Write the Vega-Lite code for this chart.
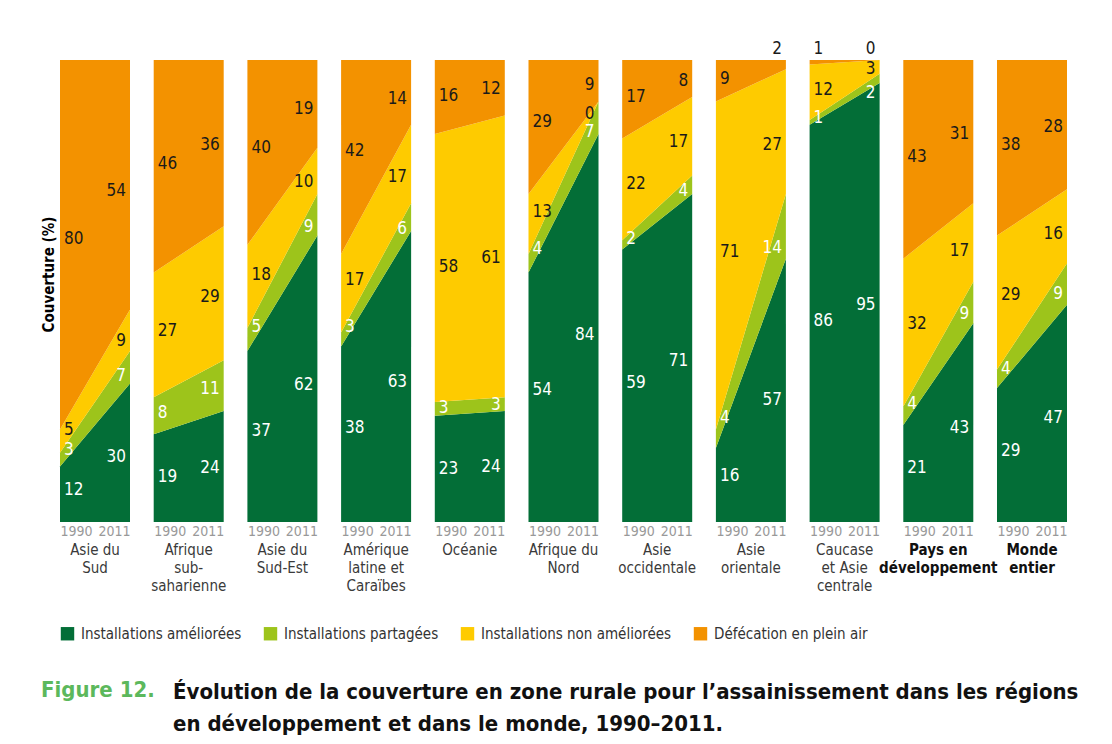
{
  "$schema": "https://vega.github.io/schema/vega-lite/v6.json",
  "padding": {"left": 41, "top": 40, "right": 5, "bottom": 8},
  "background": "white",
  "title": {
    "text": ["Évolution de la couverture en zone rurale pour l’assainissement dans les régions", "en développement et dans le monde, 1990–2011."],
    "orient": "bottom", "anchor": "start", "dx": 132, "dy": -23,
    "fontSize": 22, "fontWeight": "bold", "color": "#111111", "lineHeight": 32, "font": "DejaVu Sans Condensed"
  },
  "resolve": {"legend": {"color": "independent"}},
  "vconcat": [
    {
      "title": {"text": "Figure 12.", "orient": "bottom", "anchor": "start", "fontSize": 22, "fontWeight": "bold", "color": "#5cb85c", "offset": 38, "font": "DejaVu Sans Condensed"},
      "data": {"values": [
        {"region": "Asie du\nSud", "year": 1990, "Installations améliorées": 12, "Installations partagées": 3, "Installations non améliorées": 5, "Défécation en plein air": 80},
        {"region": "Asie du\nSud", "year": 2011, "Installations améliorées": 30, "Installations partagées": 7, "Installations non améliorées": 9, "Défécation en plein air": 54},
        {"region": "Afrique\nsub-\nsaharienne", "year": 1990, "Installations améliorées": 19, "Installations partagées": 8, "Installations non améliorées": 27, "Défécation en plein air": 46},
        {"region": "Afrique\nsub-\nsaharienne", "year": 2011, "Installations améliorées": 24, "Installations partagées": 11, "Installations non améliorées": 29, "Défécation en plein air": 36},
        {"region": "Asie du\nSud-Est", "year": 1990, "Installations améliorées": 37, "Installations partagées": 5, "Installations non améliorées": 18, "Défécation en plein air": 40},
        {"region": "Asie du\nSud-Est", "year": 2011, "Installations améliorées": 62, "Installations partagées": 9, "Installations non améliorées": 10, "Défécation en plein air": 19},
        {"region": "Amérique\nlatine et\nCaraïbes", "year": 1990, "Installations améliorées": 38, "Installations partagées": 3, "Installations non améliorées": 17, "Défécation en plein air": 42},
        {"region": "Amérique\nlatine et\nCaraïbes", "year": 2011, "Installations améliorées": 63, "Installations partagées": 6, "Installations non améliorées": 17, "Défécation en plein air": 14},
        {"region": "Océanie", "year": 1990, "Installations améliorées": 23, "Installations partagées": 3, "Installations non améliorées": 58, "Défécation en plein air": 16},
        {"region": "Océanie", "year": 2011, "Installations améliorées": 24, "Installations partagées": 3, "Installations non améliorées": 61, "Défécation en plein air": 12},
        {"region": "Afrique du\nNord", "year": 1990, "Installations améliorées": 54, "Installations partagées": 4, "Installations non améliorées": 13, "Défécation en plein air": 29},
        {"region": "Afrique du\nNord", "year": 2011, "Installations améliorées": 84, "Installations partagées": 7, "Installations non améliorées": 0, "Défécation en plein air": 9},
        {"region": "Asie\noccidentale", "year": 1990, "Installations améliorées": 59, "Installations partagées": 2, "Installations non améliorées": 22, "Défécation en plein air": 17},
        {"region": "Asie\noccidentale", "year": 2011, "Installations améliorées": 71, "Installations partagées": 4, "Installations non améliorées": 17, "Défécation en plein air": 8},
        {"region": "Asie\norientale", "year": 1990, "Installations améliorées": 16, "Installations partagées": 4, "Installations non améliorées": 71, "Défécation en plein air": 9},
        {"region": "Asie\norientale", "year": 2011, "Installations améliorées": 57, "Installations partagées": 14, "Installations non améliorées": 27, "Défécation en plein air": 2},
        {"region": "Caucase\net Asie\ncentrale", "year": 1990, "Installations améliorées": 86, "Installations partagées": 1, "Installations non améliorées": 12, "Défécation en plein air": 1},
        {"region": "Caucase\net Asie\ncentrale", "year": 2011, "Installations améliorées": 95, "Installations partagées": 2, "Installations non améliorées": 3, "Défécation en plein air": 0},
        {"region": "Pays en\ndéveloppement", "year": 1990, "Installations améliorées": 21, "Installations partagées": 4, "Installations non améliorées": 32, "Défécation en plein air": 43},
        {"region": "Pays en\ndéveloppement", "year": 2011, "Installations améliorées": 43, "Installations partagées": 9, "Installations non améliorées": 17, "Défécation en plein air": 31},
        {"region": "Monde\nentier", "year": 1990, "Installations améliorées": 29, "Installations partagées": 4, "Installations non améliorées": 29, "Défécation en plein air": 38},
        {"region": "Monde\nentier", "year": 2011, "Installations améliorées": 47, "Installations partagées": 9, "Installations non améliorées": 16, "Défécation en plein air": 28}
      ]},
      "transform": [
        {"fold": ["Installations améliorées", "Installations partagées", "Installations non améliorées", "Défécation en plein air"], "as": ["cat", "value"]},
        {"calculate": "indexof(['Installations améliorées', 'Installations partagées', 'Installations non améliorées', 'Défécation en plein air'], datum.cat)", "as": "ord"},
        {"stack": "value", "groupby": ["region", "year"], "sort": [{"field": "ord", "order": "ascending"}], "as": ["y0", "y1"]},
        {"calculate": "(datum.y0 + datum.y1) / 2", "as": "mid"},
        {"joinaggregate": [{"op": "sum", "field": "mid", "as": "msum"}], "groupby": ["region", "cat"]},
        {"calculate": "datum.ord == 3 && datum.value <= 2 ? 102.3 : (0.9 * datum.mid + 0.1 * (datum.msum - datum.mid) - (datum.ord == 1 && datum.value <= 2 && datum.year == 2011 ? 2.2 : 0))", "as": "ly"}
      ],
      "facet": {
        "column": {
          "field": "region", "type": "nominal", "header": null,
          "sort": ["Asie du\nSud", "Afrique\nsub-\nsaharienne", "Asie du\nSud-Est", "Amérique\nlatine et\nCaraïbes", "Océanie", "Afrique du\nNord", "Asie\noccidentale", "Asie\norientale", "Caucase\net Asie\ncentrale", "Pays en\ndéveloppement", "Monde\nentier"]
        }
      },
      "spacing": 23.7,
      "bounds": "flush",
      "spec": {
        "width": 70,
        "height": 462,
        "layer": [
          {
            "mark": {"type": "area", "interpolate": "linear"},
            "encoding": {
              "x": {"field": "year", "type": "quantitative", "scale": {"domain": [1990, 2011], "nice": false, "zero": false},
                "axis": {"values": [1990, 2011], "format": "d", "labelFlush": true, "ticks": false, "domain": false, "grid": false, "title": null, "labelColor": "#999999", "labelFontSize": 14, "labelPadding": 2}},
              "y": {"field": "y0", "type": "quantitative", "scale": {"domain": [0, 100], "nice": false},
                "axis": {"title": "Couverture (%)", "labels": false, "ticks": false, "domain": false, "grid": false, "titleFontSize": 15, "titleFontWeight": "bold", "titleColor": "#000000", "titlePadding": 4, "titleY": 214}},
              "y2": {"field": "y1"},
              "color": {"field": "cat", "type": "nominal",
                "scale": {"domain": ["Installations améliorées", "Installations partagées", "Installations non améliorées", "Défécation en plein air"], "range": ["#036e37", "#9dc41b", "#fecb00", "#f39200"]},
                "legend": {"orient": "bottom", "direction": "horizontal", "title": null, "symbolType": "square", "symbolSize": 180, "symbolStrokeWidth": 0, "labelFontSize": 15, "labelColor": "#333333", "columnPadding": 21, "labelLimit": 400, "labelOffset": 6, "offset": 32}},
              "order": {"field": "ord"}
            }
          },
          {
            "transform": [{"filter": "datum.year == 1990"}],
            "mark": {"type": "text", "align": "left", "baseline": "middle", "dx": 4, "fontSize": 17},
            "encoding": {
              "x": {"field": "year", "type": "quantitative"},
              "y": {"field": "ly", "type": "quantitative"},
              "text": {"field": "value", "type": "quantitative"},
              "color": {"condition": {"test": "datum.ord <= 1 && datum.ly <= 100", "value": "#ffffff"}, "value": "#1a1a1a"}
            }
          },
          {
            "transform": [{"filter": "datum.year == 2011"}],
            "mark": {"type": "text", "align": "right", "baseline": "middle", "dx": -4, "fontSize": 17},
            "encoding": {
              "x": {"field": "year", "type": "quantitative"},
              "y": {"field": "ly", "type": "quantitative"},
              "text": {"field": "value", "type": "quantitative"},
              "color": {"condition": {"test": "datum.ord <= 1 && datum.ly <= 100", "value": "#ffffff"}, "value": "#1a1a1a"}
            }
          },
          {
            "transform": [{"filter": "datum.year == 1990 && datum.ord == 0 && indexof(datum.region, 'Pays') != 0 && indexof(datum.region, 'Monde') != 0"}],
            "mark": {"type": "text", "align": "center", "baseline": "top", "dy": 21, "fontSize": 15, "lineHeight": 18, "lineBreak": "\n", "color": "#3a3a3a"},
            "encoding": {
              "x": {"datum": 2000.5, "type": "quantitative"},
              "y": {"datum": 0, "type": "quantitative"},
              "text": {"field": "region", "type": "nominal"}
            }
          },
          {
            "transform": [{"filter": "datum.year == 1990 && datum.ord == 0 && (indexof(datum.region, 'Pays') == 0 || indexof(datum.region, 'Monde') == 0)"}],
            "mark": {"type": "text", "align": "center", "baseline": "top", "dy": 21, "fontSize": 15, "lineHeight": 18, "lineBreak": "\n", "fontWeight": "bold", "color": "#111111"},
            "encoding": {
              "x": {"datum": 2000.5, "type": "quantitative"},
              "y": {"datum": 0, "type": "quantitative"},
              "text": {"field": "region", "type": "nominal"}
            }
          }
        ]
      }
    }
  ],
  "config": {
    "font": "DejaVu Sans Condensed",
    "view": {"stroke": null},
    "legend": {"labelFont": "DejaVu Sans Condensed"},
    "axis": {"labelFont": "DejaVu Sans Condensed", "titleFont": "DejaVu Sans Condensed"}
  }
}
